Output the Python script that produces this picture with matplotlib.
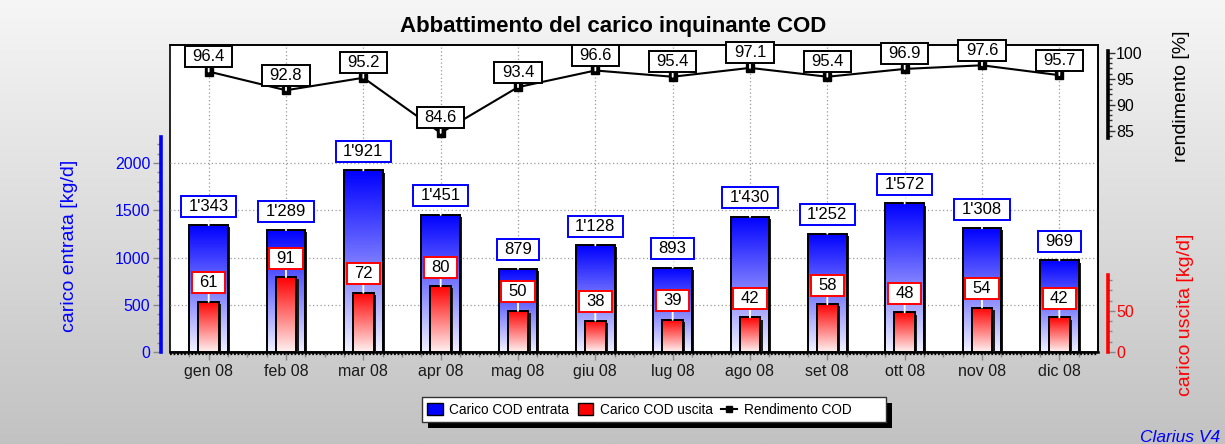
import numpy as np
import matplotlib
matplotlib.use('Agg')
import matplotlib.pyplot as plt
import matplotlib.patheffects as pe
from matplotlib.patches import Rectangle, Patch
from matplotlib.lines import Line2D
from matplotlib.path import Path
from matplotlib.colors import LinearSegmentedColormap
from matplotlib.ticker import FixedLocator
from matplotlib.transforms import offset_copy

plt.rcParams['font.family'] = ['Liberation Sans', 'DejaVu Sans']

# ---------------- data ----------------
mesi = ['gen 08', 'feb 08', 'mar 08', 'apr 08', 'mag 08', 'giu 08',
        'lug 08', 'ago 08', 'set 08', 'ott 08', 'nov 08', 'dic 08']
carico_entrata = [1343, 1289, 1921, 1451, 879, 1128, 893, 1430, 1252, 1572, 1308, 969]
carico_uscita = [61, 91, 72, 80, 50, 38, 39, 42, 58, 48, 54, 42]
rendimento = [96.4, 92.8, 95.2, 84.6, 93.4, 96.6, 95.4, 97.1, 95.4, 96.9, 97.6, 95.7]

ticks_entrata = [0, 500, 1000, 1500, 2000]
ticks_uscita = [0, 50]
ticks_rendimento = [85, 90, 95, 100]

titolo = 'Abbattimento del carico inquinante COD'
label_entrata = 'carico entrata [kg/d]'
label_uscita = 'carico uscita [kg/d]'
label_rend = 'rendimento [%]'
legend_labels = ['Carico COD entrata', 'Carico COD uscita', 'Rendimento COD']

# ---------------- layout helpers ----------------
W, H = 1225, 444
DPI = 100
PT = 72 / DPI  # points per pixel

fig = plt.figure(figsize=(W / DPI, H / DPI), dpi=DPI)


def fx(px):
    return px / W


def fy(py):
    return 1 - py / H


# background gradient
bg = fig.add_axes([0, 0, 1, 1], zorder=-10)
bg.imshow(np.linspace(0, 1, 256).reshape(-1, 1), aspect='auto', origin='upper',
          cmap=LinearSegmentedColormap.from_list('bg', ['#f6f6f6', '#c2c2c2']),
          extent=[0, 1, 0, 1])
bg.set_axis_off()

ax = fig.add_axes([fx(170), fy(352), fx(1098) - fx(170), fy(45) - fy(352)])
ax2 = ax.twinx()
ax3 = ax.twinx()
ax.set_zorder(1)
ax2.set_zorder(2)
ax3.set_zorder(3)
for a in (ax2, ax3):
    a.patch.set_visible(False)
    for s in ('left', 'top', 'bottom'):
        a.spines[s].set_visible(False)
ax.patch.set_facecolor('white')
ax.patch.set_edgecolor('black')
ax.patch.set_linewidth(1.2)


def label_box(x0, y0, width, height, mutation_size):
    padx = 0.45 * mutation_size
    pady = 0.18 * mutation_size
    xa, ya = x0 - padx, y0 - pady
    xb, yb = x0 + width + padx, y0 + height + pady
    return Path([(xa, ya), (xb, ya), (xb, yb), (xa, yb), (xa, ya)], closed=True)


def fmt(v):
    return f"{v:,}".replace(',', "'")


def gradient_bars(axis, values, width, top, bottom):
    xs = np.arange(len(values))
    base = axis.bar(xs, values, width, color='white', edgecolor='none', zorder=2,
                    path_effects=[pe.SimplePatchShadow(offset=(1.5, -1.5), shadow_rgbFace='#1a1a1a',
                                                       alpha=1.0), pe.Normal()])
    cmap = LinearSegmentedColormap.from_list('g', [bottom, top])
    grad = np.linspace(0, 1, 256).reshape(-1, 1)
    for b in base:
        im = axis.imshow(grad, cmap=cmap, origin='lower', aspect='auto', interpolation='bilinear',
                         extent=[b.get_x(), b.get_x() + b.get_width(), 0, b.get_height()],
                         zorder=2.5)
        im.set_clip_path(b)
    axis.bar(xs, values, width, facecolor='none', edgecolor='black', linewidth=1.4, zorder=3)


def value_labels(axis, values, texts, edge, dy):
    for i, (v, t) in enumerate(zip(values, texts)):
        axis.annotate(t, xy=(i, v), xytext=(0, dy), textcoords='offset pixels',
                      ha='center', va='center', fontsize=12, color='black',
                      bbox=dict(boxstyle=label_box, fc='white', ec=edge, lw=1.4),
                      arrowprops=dict(arrowstyle='-', color='white', lw=1.3,
                                      shrinkA=0, shrinkB=0),
                      zorder=6)


x = np.arange(len(mesi))

# bars
gradient_bars(ax, carico_entrata, 0.5, '#0000ff', '#f2f2ff')
gradient_bars(ax2, carico_uscita, 0.27, '#ff0000', '#fff2f2')
value_labels(ax, carico_entrata, [fmt(v) for v in carico_entrata], '#0000ff', 19)
value_labels(ax2, carico_uscita, [fmt(v) for v in carico_uscita], '#ff0000', 19)

# line
ax3.plot(x, rendimento, color='black', lw=1.5, marker='s', ms=5.8, zorder=4)
value_labels(ax3, rendimento, [f"{v:.1f}" for v in rendimento], 'black', 15)

# ---------------- axes ----------------
ax.set_xlim(-0.5, 11.5)
ax.set_xticks(x, mesi)
ax.xaxis.set_minor_locator(FixedLocator(np.arange(-0.25, 11.5, 0.25)))
ax.tick_params(axis='x', which='major', direction='out', length=8 * PT, width=1,
               color='#888888', labelsize=11.5, labelcolor='#1a1a1a', pad=3)
ax.tick_params(axis='x', which='minor', direction='out', length=4.5 * PT, width=1, color='#888888')

ax.set_ylim(0, 3249)
ax.yaxis.set_major_locator(FixedLocator(ticks_entrata))
ax.yaxis.set_minor_locator(FixedLocator(np.arange(0, 2275, 100)))
ax.tick_params(axis='y', which='major', length=8 * PT, width=1, color='#888888',
               labelsize=11.5, labelcolor='#0000ff', pad=2)
ax.tick_params(axis='y', which='minor', length=4 * PT, width=1, color='#888888')
ax.spines['left'].set_position(('outward', 9 * PT))
ax.spines['left'].set_bounds(0, 2275)
ax.spines['left'].set_color('#0000ff')
ax.spines['left'].set_linewidth(2.6)
ax.spines['bottom'].set_linewidth(1.8)
ax.spines['top'].set_linewidth(1.2)
ax.spines['right'].set_linewidth(1.2)
ax.grid(True, which='major', color='#9a9a9a', linestyle=(0, (1, 2)), linewidth=0.9)
ax.set_axisbelow(True)

# ruler-like teeth under the category axis line
ruler = ax.axhline(0, color='black', lw=1.6, linestyle=(0, (0.8, 0.8)), clip_on=False, zorder=5)
ruler.set_transform(offset_copy(ax.get_yaxis_transform(), fig=fig, x=0, y=-2, units='dots'))

ax2.set_ylim(0, 373)
ax2.yaxis.set_major_locator(FixedLocator(ticks_uscita))
ax2.yaxis.set_minor_locator(FixedLocator([12.5, 25, 37.5, 62.5, 75, 87.5]))
ax2.tick_params(axis='y', which='major', length=7 * PT, width=1, color='#888888',
                labelsize=11.5, labelcolor='#ff0000', pad=1)
ax2.tick_params(axis='y', which='minor', length=4 * PT, width=1, color='#888888')
ax2.spines['right'].set_position(('outward', 9.5 * PT))
ax2.spines['right'].set_bounds(0, 94)
ax2.spines['right'].set_color('#ff0000')
ax2.spines['right'].set_linewidth(2.6)

ax3.set_ylim(42.5, 101.5)
ax3.yaxis.set_major_locator(FixedLocator(ticks_rendimento))
ax3.yaxis.set_minor_locator(FixedLocator(np.arange(84, 101, 1)))
ax3.tick_params(axis='y', which='major', length=7 * PT, width=1, color='#333333',
                labelsize=11.5, labelcolor='black', pad=1)
ax3.tick_params(axis='y', which='minor', length=4 * PT, width=1, color='#333333')
ax3.spines['right'].set_position(('outward', 9.5 * PT))
ax3.spines['right'].set_bounds(83.6, 100.3)
ax3.spines['right'].set_color('black')
ax3.spines['right'].set_linewidth(2.6)

# ---------------- texts ----------------
fig.text(fx(613.5), fy(32), titolo, ha='center', va='baseline', fontsize=16, fontweight='bold')
fig.text(fx(69.5), fy(245.5), label_entrata, ha='center', va='center', rotation=90,
         fontsize=14, color='#0000ff')
fig.text(fx(1182), fy(96), label_rend, ha='center', va='center', rotation=90,
         fontsize=14, color='black')
fig.text(fx(1185), fy(315), label_uscita, ha='center', va='center', rotation=90,
         fontsize=14, color='#ff0000')
fig.text(fx(1220), fy(442), 'Clarius V4', ha='right', va='baseline', fontsize=12.5,
         style='italic', color='#0000ff')

# ---------------- legend ----------------
fig.add_artist(Rectangle((fx(428), fy(428)), fx(886) - fx(422), fy(397) - fy(422),
                         transform=fig.transFigure, fc='black', ec='none', zorder=3))
fig.add_artist(Rectangle((fx(422), fy(422)), fx(886) - fx(422), fy(397) - fy(422),
                         transform=fig.transFigure, fc='white', ec='#333333', lw=1, zorder=4))
handles = [Patch(fc='#0000ff', ec='black', lw=1),
           Patch(fc='#ff0000', ec='black', lw=1),
           Line2D([], [], color='black', lw=1.5, marker='s', ms=5)]
fig.legend(handles, legend_labels, loc='center left', bbox_to_anchor=(fx(427), fy(410)),
           ncol=3, frameon=False, fontsize=9.8, handlelength=1.15, handleheight=1.0,
           handletextpad=0.5, columnspacing=0.6, borderpad=0, borderaxespad=0)

fig.savefig('out.png', dpi=DPI)
